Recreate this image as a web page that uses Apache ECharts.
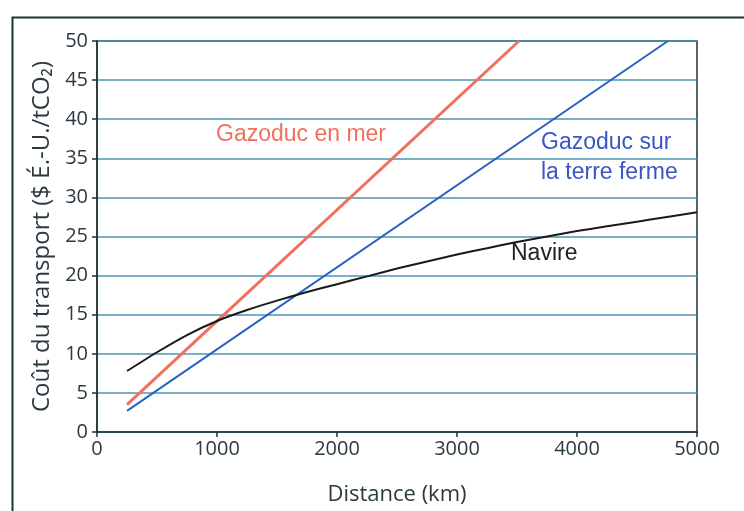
<!DOCTYPE html>
<html><head><meta charset="utf-8">
<script src="https://cdn.jsdelivr.net/npm/echarts@6/dist/echarts.min.js"></script>
<style>html,body{margin:0;padding:0;background:#fff}#c{width:744px;height:511px}</style>
</head><body><div id="c"></div>
<script>
const distances = [250, 500, 750, 1000, 1250, 1500, 1750, 2000, 2250, 2500, 2750, 3000, 3250, 3500, 3750, 4000, 4250, 4500, 4750, 5000];
const navire = [7.8, 10.2, 12.4, 14.2, 15.6, 16.8, 17.9, 18.9, 19.9, 20.9, 21.8, 22.7, 23.5, 24.3, 25.0, 25.7, 26.3, 26.9, 27.5, 28.1];
const merX = [250, 3517];
const merY = [3.5, 50];
const terreX = [250, 4758];
const terreY = [2.7, 50];
const xTicks = [0, 1000, 2000, 3000, 4000, 5000];
const yTicks = [0, 5, 10, 15, 20, 25, 30, 35, 40, 45, 50];

const pair = (xs, ys) => xs.map((x, i) => [x, ys[i]]);
const axisFont = '"Open Sans", sans-serif';
const dark = '#1d3238';
const txt = '#2a3a40';

const chart = echarts.init(document.getElementById('c'));
chart.setOption({
  animation: false,
  backgroundColor: '#fff',
  grid: { left: 97, top: 41, right: 47, bottom: 79, show: true, borderColor: dark, borderWidth: 1.5, backgroundColor: '#fff' },
  xAxis: {
    type: 'value', min: xTicks[0], max: xTicks[xTicks.length - 1], interval: 1000,
    name: 'Distance (km)', nameLocation: 'middle', nameGap: 52,
    nameTextStyle: { fontFamily: axisFont, fontSize: 22, color: txt },
    axisLine: { lineStyle: { color: dark, width: 1.5 } },
    axisTick: { show: true, length: 5, inside: false, lineStyle: { color: dark, width: 1.5 } },
    axisLabel: { fontFamily: axisFont, fontSize: 20, color: txt, margin: 7, formatter: v => String(v) },
    splitLine: { show: false }
  },
  yAxis: {
    type: 'value', min: yTicks[0], max: yTicks[yTicks.length - 1], interval: 5,
    name: 'Coût du transport ($ É.-U./tCO₂)', nameLocation: 'middle', nameGap: 42, nameRotate: 90,
    nameTextStyle: { fontFamily: axisFont, fontSize: 24, color: txt },
    axisLine: { lineStyle: { color: dark, width: 1.5 } },
    axisTick: { show: true, length: 5, inside: false, lineStyle: { color: dark, width: 1.5 } },
    axisLabel: { fontFamily: axisFont, fontSize: 20, color: txt, margin: 9, formatter: v => String(v) },
    splitLine: { show: true, lineStyle: { color: '#4b95b2', width: 1.5 } }
  },
  series: [
    { type: 'line', name: 'Navire', data: pair(distances, navire), smooth: 0.2, symbol: 'none',
      lineStyle: { color: '#1a1a1a', width: 2 }, z: 3 },
    { type: 'line', name: 'Gazoduc en mer', data: pair(merX, merY), symbol: 'none',
      lineStyle: { color: '#f26f5c', width: 3 }, z: 2 },
    { type: 'line', name: 'Gazoduc sur la terre ferme', data: pair(terreX, terreY), symbol: 'none',
      lineStyle: { color: '#2563c4', width: 2 }, z: 2 }
  ],
  graphic: [
    { type: 'rect', left: 10, top: 15, shape: { width: 900, height: 700 }, silent: true, z: 100,
      style: { fill: 'none', stroke: dark, lineWidth: 2 } },
    { type: 'text', left: 216, top: 123, z: 101,
      style: { text: 'Gazoduc en mer', fill: '#f0705e', font: '23px "Liberation Sans", Arial, sans-serif' } },
    { type: 'text', left: 541, top: 128, z: 101,
      style: { text: 'Gazoduc sur\nla terre ferme', fill: '#3a55c4', lineHeight: 30, font: '23px "Liberation Sans", Arial, sans-serif' } },
    { type: 'text', left: 511, top: 242, z: 101,
      style: { text: 'Navire', fill: '#222', font: '23px "Liberation Sans", Arial, sans-serif' } }
  ]
});
</script></body></html>
